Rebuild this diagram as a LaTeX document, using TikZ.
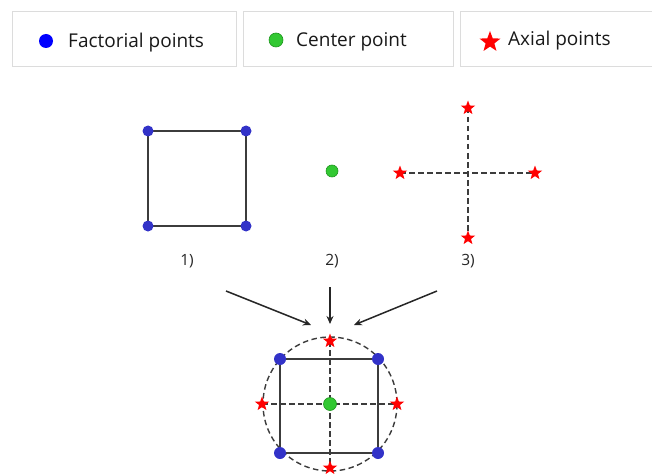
\documentclass[tikz,border=0pt]{standalone}
\usepackage{fontspec}
\setmainfont{Open Sans}
\usetikzlibrary{shapes.geometric,arrows.meta}
\definecolor{fblue}{RGB}{50,50,200}
\definecolor{lblue}{RGB}{0,0,255}
\definecolor{cgreen}{RGB}{50,200,50}
\definecolor{dgreen}{RGB}{30,150,30}
\definecolor{lineg}{RGB}{60,60,60}
\definecolor{boxg}{RGB}{220,220,220}
\tikzset{
  legbox/.style={draw=boxg, line width=1pt, fill=white},
  legtext/.style={anchor=west, font=\fontsize{19}{22}\selectfont, text=black!90, inner sep=0pt},
  fdot/.style={circle, fill=fblue, inner sep=0pt, minimum size=11pt},
  cdot/.style={circle, fill=cgreen, draw=dgreen, line width=0.6pt, inner sep=0pt, minimum size=12pt},
  astar/.style={star, star points=5, star point ratio=2.4, fill=red, inner sep=0pt, minimum size=15pt},
  solidline/.style={draw=lineg, line width=1.6pt},
  dashline/.style={draw=lineg, line width=1.4pt, dash pattern=on 5.5pt off 3.5pt},
  numlab/.style={font=\fontsize{15.5}{18}\selectfont, text=black!85},
  arr/.style={draw=black!85, line width=1.5pt, -{Stealth[length=8pt,width=7pt]}}
}
\begin{document}
\begin{tikzpicture}[x=1pt,y=-1pt]
\useasboundingbox (0,0) rectangle (652,473);
% legend
\draw[legbox] (12,12) rectangle (236,67);
\draw[legbox] (243,12) rectangle (453,67);
\draw[legbox] (460,12) rectangle (660,67);
\node[circle, fill=lblue, inner sep=0pt, minimum size=14pt] (lf) at (46,41) {};
\node[legtext] (lft) at (68,43) {Factorial points};
\node[circle, fill=cgreen, draw=dgreen, line width=0.6pt, inner sep=0pt, minimum size=14pt] (lc) at (276,40) {};
\node[legtext] (lct) at (296,42) {Center point};
\node[star, star points=5, star point ratio=2.4, fill=red, inner sep=0pt, minimum size=22pt] (la) at (490,42) {};
\node[legtext] (lat) at (508,41) {Axial points};
% 1) factorial square
\coordinate (f1) at (148,131);
\coordinate (f2) at (246,131);
\coordinate (f3) at (246,226);
\coordinate (f4) at (148,226);
\draw[solidline] (f1) -- (f2) -- (f3) -- (f4) -- cycle;
\foreach \p in {f1,f2,f3,f4} \node[fdot] at (\p) {};
\node[numlab] (n1) at (187,261) {1)};
% 2) center
\node[cdot] (c) at (332,171) {};
\node[numlab] (n2) at (332,261) {2)};
% 3) axial
\coordinate (ac) at (468,173);
\coordinate (at) at (468,108);
\coordinate (ab) at (468,238);
\coordinate (al) at (400,173);
\coordinate (ar) at (535,173);
\draw[dashline] (at) -- (ab);
\draw[dashline] (al) -- (ar);
\foreach \p in {at,ab,al,ar} \node[astar] at (\p) {};
\node[numlab] (n3) at (468,261) {3)};
% arrows
\coordinate (s1) at (226,291);
\coordinate (e1) at (311,325);
\coordinate (s2) at (330,287);
\coordinate (e2) at (330,324);
\coordinate (s3) at (437,291);
\coordinate (e3) at (354,325);
\draw[arr] (s1) -- (e1);
\draw[arr] (s2) -- (e2);
\draw[arr] (s3) -- (e3);
% combined design
\coordinate (o) at (330,404);
\draw[dashline] (o) circle (67);
\coordinate (bt) at (330,341);
\coordinate (bb) at (330,468);
\coordinate (bl) at (262,404);
\coordinate (br) at (397,404);
\draw[dashline] (bt) -- (bb);
\draw[dashline] (bl) -- (br);
\coordinate (g1) at (280,359);
\coordinate (g2) at (378,359);
\coordinate (g3) at (378,453);
\coordinate (g4) at (280,453);
\draw[solidline] (g1) -- (g2) -- (g3) -- (g4) -- cycle;
\foreach \p in {g1,g2,g3,g4} \node[fdot, minimum size=12pt] at (\p) {};
\foreach \p in {bt,bb,bl,br} \node[astar] at (\p) {};
\node[cdot, minimum size=13pt] (oc) at (o) {};
\end{tikzpicture}
\end{document}
